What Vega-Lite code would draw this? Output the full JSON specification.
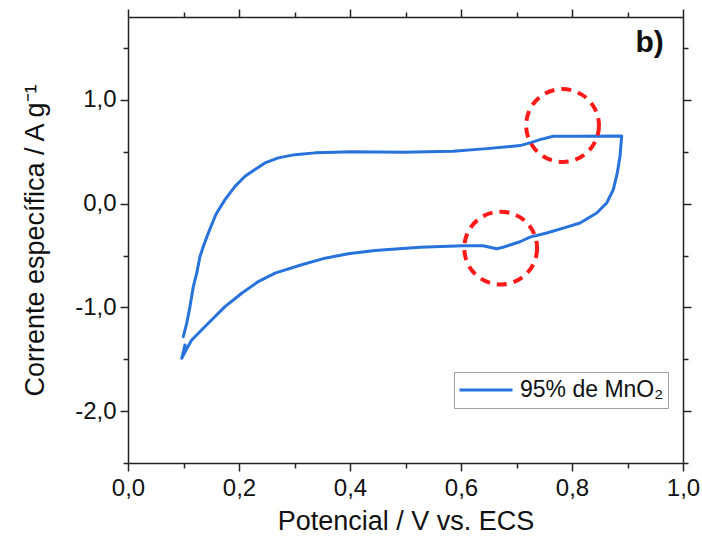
{
  "$schema": "https://vega.github.io/schema/vega-lite/v6.json",
  "width": 555,
  "height": 446,
  "autosize": "none",
  "padding": {"left": 128, "top": 17, "right": 19, "bottom": 87},
  "background": "white",
  "config": {
    "view": {"stroke": null},
    "font": "Liberation Sans",
    "axis": {
      "grid": false,
      "domainColor": "#222222",
      "domainWidth": 1.5,
      "tickColor": "#222222",
      "tickWidth": 1.5,
      "labelColor": "#111111",
      "titleColor": "#111111",
      "labelFont": "Liberation Sans",
      "titleFont": "Liberation Sans",
      "labelFontSize": 24,
      "titleFontSize": 27,
      "titleFontWeight": "normal"
    }
  },
  "layer": [
    {
      "data": {
        "values": [
          {"v": 0.1027, "i": -1.362, "o": 1, "s": "95% de MnO₂"},
          {"v": 0.0968, "i": -1.491, "o": 2, "s": "95% de MnO₂"},
          {"v": 0.1045, "i": -1.411, "o": 3, "s": "95% de MnO₂"},
          {"v": 0.1148, "i": -1.314, "o": 4, "s": "95% de MnO₂"},
          {"v": 0.1447, "i": -1.152, "o": 5, "s": "95% de MnO₂"},
          {"v": 0.1748, "i": -0.992, "o": 6, "s": "95% de MnO₂"},
          {"v": 0.2049, "i": -0.863, "o": 7, "s": "95% de MnO₂"},
          {"v": 0.2348, "i": -0.751, "o": 8, "s": "95% de MnO₂"},
          {"v": 0.2649, "i": -0.670, "o": 9, "s": "95% de MnO₂"},
          {"v": 0.3130, "i": -0.589, "o": 10, "s": "95% de MnO₂"},
          {"v": 0.3550, "i": -0.525, "o": 11, "s": "95% de MnO₂"},
          {"v": 0.3969, "i": -0.483, "o": 12, "s": "95% de MnO₂"},
          {"v": 0.4450, "i": -0.451, "o": 13, "s": "95% de MnO₂"},
          {"v": 0.5261, "i": -0.420, "o": 14, "s": "95% de MnO₂"},
          {"v": 0.6036, "i": -0.406, "o": 15, "s": "95% de MnO₂"},
          {"v": 0.6396, "i": -0.406, "o": 16, "s": "95% de MnO₂"},
          {"v": 0.6643, "i": -0.435, "o": 17, "s": "95% de MnO₂"},
          {"v": 0.6757, "i": -0.420, "o": 18, "s": "95% de MnO₂"},
          {"v": 0.7063, "i": -0.367, "o": 19, "s": "95% de MnO₂"},
          {"v": 0.7243, "i": -0.322, "o": 20, "s": "95% de MnO₂"},
          {"v": 0.7544, "i": -0.283, "o": 21, "s": "95% de MnO₂"},
          {"v": 0.7843, "i": -0.235, "o": 22, "s": "95% de MnO₂"},
          {"v": 0.8144, "i": -0.186, "o": 23, "s": "95% de MnO₂"},
          {"v": 0.8445, "i": -0.090, "o": 24, "s": "95% de MnO₂"},
          {"v": 0.8625, "i": 0.007, "o": 25, "s": "95% de MnO₂"},
          {"v": 0.8744, "i": 0.135, "o": 26, "s": "95% de MnO₂"},
          {"v": 0.8816, "i": 0.297, "o": 27, "s": "95% de MnO₂"},
          {"v": 0.8865, "i": 0.457, "o": 28, "s": "95% de MnO₂"},
          {"v": 0.8895, "i": 0.652, "o": 29, "s": "95% de MnO₂"},
          {"v": 0.8144, "i": 0.650, "o": 30, "s": "95% de MnO₂"},
          {"v": 0.7663, "i": 0.650, "o": 31, "s": "95% de MnO₂"},
          {"v": 0.7423, "i": 0.618, "o": 32, "s": "95% de MnO₂"},
          {"v": 0.7243, "i": 0.586, "o": 33, "s": "95% de MnO₂"},
          {"v": 0.7063, "i": 0.560, "o": 34, "s": "95% de MnO₂"},
          {"v": 0.6468, "i": 0.531, "o": 35, "s": "95% de MnO₂"},
          {"v": 0.5856, "i": 0.505, "o": 36, "s": "95% de MnO₂"},
          {"v": 0.4955, "i": 0.496, "o": 37, "s": "95% de MnO₂"},
          {"v": 0.4000, "i": 0.500, "o": 38, "s": "95% de MnO₂"},
          {"v": 0.3730, "i": 0.496, "o": 39, "s": "95% de MnO₂"},
          {"v": 0.3369, "i": 0.490, "o": 40, "s": "95% de MnO₂"},
          {"v": 0.3009, "i": 0.473, "o": 41, "s": "95% de MnO₂"},
          {"v": 0.2708, "i": 0.442, "o": 42, "s": "95% de MnO₂"},
          {"v": 0.2468, "i": 0.393, "o": 43, "s": "95% de MnO₂"},
          {"v": 0.2288, "i": 0.329, "o": 44, "s": "95% de MnO₂"},
          {"v": 0.2108, "i": 0.264, "o": 45, "s": "95% de MnO₂"},
          {"v": 0.1928, "i": 0.167, "o": 46, "s": "95% de MnO₂"},
          {"v": 0.1748, "i": 0.039, "o": 47, "s": "95% de MnO₂"},
          {"v": 0.1598, "i": -0.090, "o": 48, "s": "95% de MnO₂"},
          {"v": 0.1568, "i": -0.123, "o": 49, "s": "95% de MnO₂"},
          {"v": 0.1447, "i": -0.283, "o": 50, "s": "95% de MnO₂"},
          {"v": 0.1357, "i": -0.413, "o": 51, "s": "95% de MnO₂"},
          {"v": 0.1297, "i": -0.509, "o": 52, "s": "95% de MnO₂"},
          {"v": 0.1238, "i": -0.670, "o": 53, "s": "95% de MnO₂"},
          {"v": 0.1177, "i": -0.799, "o": 54, "s": "95% de MnO₂"},
          {"v": 0.1117, "i": -0.992, "o": 55, "s": "95% de MnO₂"},
          {"v": 0.1058, "i": -1.153, "o": 56, "s": "95% de MnO₂"},
          {"v": 0.0996, "i": -1.282, "o": 57, "s": "95% de MnO₂"}
        ]
      },
      "mark": {"type": "line", "strokeWidth": 3, "strokeJoin": "round", "strokeCap": "round"},
      "encoding": {
        "x": {
          "field": "v", "type": "quantitative",
          "scale": {"domain": [0, 1], "nice": false, "zero": false},
          "axis": {
            "orient": "bottom",
            "values": [0, 0.1, 0.2, 0.3, 0.4, 0.5, 0.6, 0.7, 0.8, 0.9, 1.0],
            "labelExpr": "round(datum.value*10)%2===0 ? replace(format(datum.value,'.1f'),'.',',') : ''",
            "tickSize": {"condition": {"test": "round(datum.value*10)%2===0", "value": 8}, "value": 5},
            "labelPadding": 5,
            "labelFlush": false,
            "title": "Potencial / V vs. ECS",
            "titlePadding": 8
          }
        },
        "y": {
          "field": "i", "type": "quantitative",
          "scale": {"domain": [-2.5, 1.8], "nice": false, "zero": false},
          "axis": {
            "orient": "left",
            "values": [-2.5, -2, -1.5, -1, -0.5, 0, 0.5, 1, 1.5],
            "labelExpr": "round(datum.value*2)%2===0 ? replace(replace(format(datum.value,'.1f'),'.',','),'−','-') : ''",
            "tickSize": {"condition": {"test": "round(datum.value*2)%2===0", "value": 8}, "value": 5},
            "labelPadding": 4,
            "labelFlush": false,
            "title": "Corrente específica / A g⁻¹",
            "titlePadding": 25
          }
        },
        "order": {"field": "o", "type": "quantitative"},
        "color": {
          "field": "s", "type": "nominal",
          "scale": {"range": ["#2872dc"]},
          "legend": {
            "title": null,
            "orient": "none",
            "legendX": 326,
            "legendY": 355,
            "symbolType": "stroke",
            "symbolSize": 2809,
            "symbolStrokeWidth": 3,
            "clipHeight": 28,
            "labelFontSize": 23,
            "labelFont": "Liberation Sans",
            "labelColor": "#111111",
            "strokeColor": "#a0a0a0",
            "padding": 4,
            "labelOffset": 6
          }
        }
      }
    },
    {
      "data": {"values": [{"cx": 0.783, "cy": 0.754}, {"cx": 0.6715, "cy": -0.428}]},
      "mark": {"type": "point", "shape": "circle", "size": 5300, "filled": false, "strokeWidth": 4, "strokeDash": [10, 7], "color": "#ff1a1a", "opacity": 1},
      "encoding": {
        "x": {
          "field": "cx", "type": "quantitative",
          "scale": {"domain": [0, 1], "nice": false, "zero": false},
          "axis": {
            "orient": "top",
            "values": [0, 0.1, 0.2, 0.3, 0.4, 0.5, 0.6, 0.7, 0.8, 0.9, 1.0],
            "labels": false,
            "title": null,
            "tickSize": {"condition": {"test": "round(datum.value*10)%2===0", "value": 8}, "value": 5}
          }
        },
        "y": {
          "field": "cy", "type": "quantitative",
          "scale": {"domain": [-2.5, 1.8], "nice": false, "zero": false},
          "axis": {
            "orient": "right",
            "values": [-2.5, -2, -1.5, -1, -0.5, 0, 0.5, 1, 1.5],
            "labels": false,
            "title": null,
            "tickSize": {"condition": {"test": "round(datum.value*2)%2===0", "value": 8}, "value": 5}
          }
        }
      }
    },
    {
      "data": {"values": [{"tx": 0.94, "ty": 1.546, "t": "b)"}]},
      "mark": {"type": "text", "fontSize": 30, "fontWeight": "bold", "font": "Liberation Sans", "color": "#111111", "align": "center", "baseline": "middle"},
      "encoding": {
        "x": {"field": "tx", "type": "quantitative", "scale": {"domain": [0, 1], "nice": false, "zero": false}, "axis": null},
        "y": {"field": "ty", "type": "quantitative", "scale": {"domain": [-2.5, 1.8], "nice": false, "zero": false}, "axis": null},
        "text": {"field": "t"}
      }
    }
  ],
  "resolve": {"axis": {"x": "independent", "y": "independent"}}
}
